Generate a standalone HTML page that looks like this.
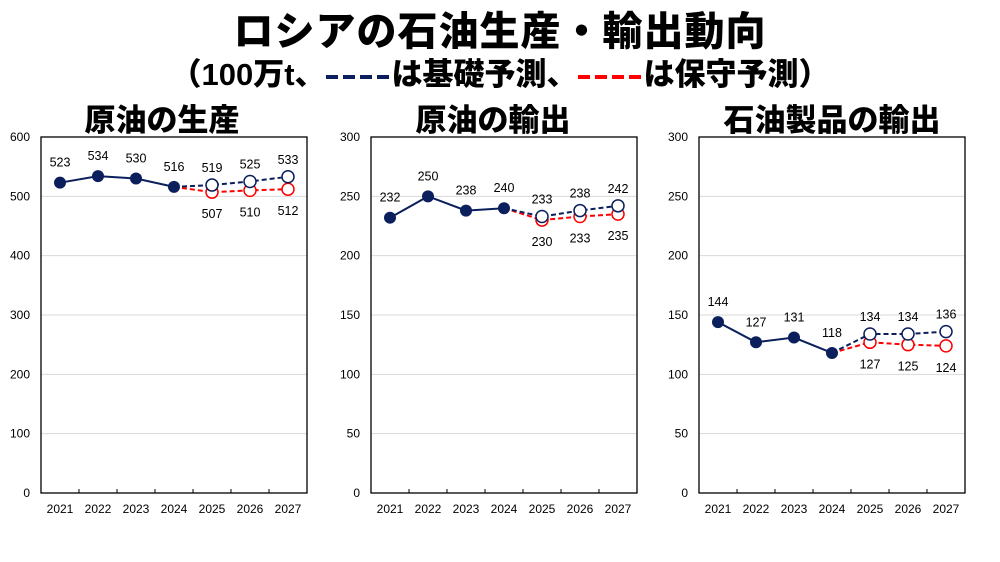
<!DOCTYPE html>
<html><head><meta charset="utf-8"><style>
body{margin:0;width:1000px;height:562px;background:#fff;overflow:hidden;position:relative;font-family:"Liberation Sans","Noto Sans CJK JP",sans-serif}
.t{position:absolute;left:0;width:1000px;text-align:center;font-weight:900;color:#000;white-space:nowrap}
.ct{position:absolute;font-weight:900;font-size:31px;text-align:center;width:300px;white-space:nowrap}
svg{position:absolute;left:0;top:0}
</style></head><body>
<div class="t" style="top:8px;font-size:40px;line-height:48px;letter-spacing:1px">ロシアの石油生産・輸出動向</div>
<div class="t" style="top:57px;font-size:31px;line-height:36px">（100万t、<svg width="66" height="10" style="position:static;vertical-align:middle"><line x1="0" y1="5" x2="66" y2="5" stroke="#0b1f5c" stroke-width="4" stroke-dasharray="12,5"/></svg>は基礎予測、<svg width="66" height="10" style="position:static;vertical-align:middle"><line x1="0" y1="5" x2="66" y2="5" stroke="#ff0000" stroke-width="4" stroke-dasharray="12,5"/></svg>は保守予測）</div>
<div class="ct" style="left:12px;top:95px">原油の生産</div>
<div class="ct" style="left:343px;top:95px">原油の輸出</div>
<div class="ct" style="left:682px;top:95px">石油製品の輸出</div>
<svg id="s" width="1000" height="562"></svg>
<script>
const years=["2021","2022","2023","2024","2025","2026","2027"];
const prodHist=[523,534,530,516];
const prodBase=[516,519,525,533];
const prodCons=[516,507,510,512];
const expHist=[232,250,238,240];
const expBase=[240,233,238,242];
const expCons=[240,230,233,235];
const prdHist=[144,127,131,118];
const prdBase=[118,134,134,136];
const prdCons=[118,127,125,124];
const ticks1=[0,100,200,300,400,500,600];
const ticks2=[0,50,100,150,200,250,300];
const panels=[
 {name:"crude-production",left:41,max:600,ticks:ticks1,h:prodHist,b:prodBase,c:prodCons},
 {name:"crude-export",left:371,max:300,ticks:ticks2,h:expHist,b:expBase,c:expCons},
 {name:"products-export",left:699,max:300,ticks:ticks2,h:prdHist,b:prdBase,c:prdCons}];
const S=document.getElementById('s'),NS="http://www.w3.org/2000/svg";
function mk(t,a,p){const e=document.createElementNS(NS,t);for(const k in a)e.setAttribute(k,a[k]);(p||S).appendChild(e);return e;}
const top0=137,bot=493,W=266,navy="#0b1f5c",red="#ff0000";
panels.forEach(P=>{
 const g=mk('g',{});
 
 
 const y=v=>bot-(v/P.max)*(bot-top0);
 const bw=W/years.length;
 const x=i=>P.left+bw*(i+0.5);
 P.ticks.forEach(t=>{
  if(t>0&&t<P.max){const l=mk('line',{x1:P.left,x2:P.left+W,y1:y(t),y2:y(t),stroke:'#d9d9d9','stroke-width':1},g);
   }
  const tx=mk('text',{x:P.left-11,y:y(t)+4,'text-anchor':'end','font-size':12,fill:'#000'},g);tx.textContent=t;
  
 });
 const fr=mk('rect',{x:P.left,y:top0,width:W,height:bot-top0,fill:'none',stroke:'#000','stroke-width':1.3},g);
 
 years.forEach((yr,i)=>{
  if(i>0){mk('line',{x1:P.left+bw*i,x2:P.left+bw*i,y1:bot,y2:bot-4,stroke:'#000'},g);}
  const t=mk('text',{x:x(i),y:bot+20,'text-anchor':'middle','font-size':12},g);t.textContent=yr;
  
 });
 const pts=(arr,off)=>arr.map((v,i)=>x(i+off)+','+y(v)).join(' ');
 const lc=mk('polyline',{points:pts(P.c,3),fill:'none',stroke:red,'stroke-width':2,'stroke-dasharray':'5,3'},g);
 
 const lb=mk('polyline',{points:pts(P.b,3),fill:'none',stroke:navy,'stroke-width':2,'stroke-dasharray':'5,3'},g);
 
 const lh=mk('polyline',{points:pts(P.h,0),fill:'none',stroke:navy,'stroke-width':2},g);
 
 const lab=(v,cx,cy)=>{const t=mk('text',{x:cx,y:cy,'text-anchor':'middle','font-size':12.5},g);t.textContent=v;
  };
 P.c.forEach((v,i)=>{if(i===0)return;const c=mk('circle',{cx:x(i+3),cy:y(v),r:6,fill:'#fff',stroke:red,'stroke-width':1.5},g);
  lab(v,x(i+3),y(v)+26);});
 P.b.forEach((v,i)=>{if(i===0)return;const c=mk('circle',{cx:x(i+3),cy:y(v),r:6,fill:'#fff',stroke:navy,'stroke-width':1.5},g);
  lab(v,x(i+3),y(v)-13);});
 P.h.forEach((v,i)=>{const c=mk('circle',{cx:x(i),cy:y(v),r:6,fill:navy},g);
  lab(v,x(i),y(v)-16);});
});
</script>
</body></html>
